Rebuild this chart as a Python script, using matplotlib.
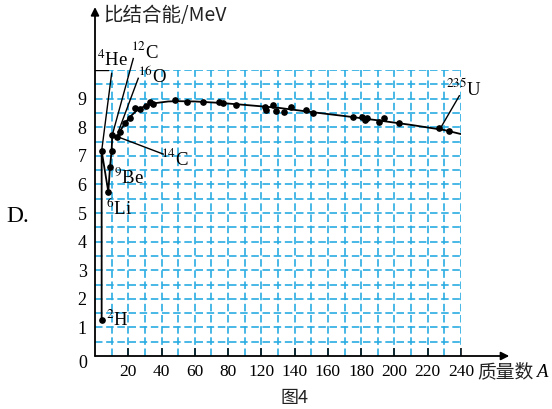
import matplotlib
matplotlib.use("Agg")
import matplotlib.pyplot as plt

plt.rcParams['font.family'] = ['Liberation Serif', 'Noto Sans CJK SC']
plt.rcParams['mathtext.fontset'] = 'stix'

# x positions follow the drawn grid (tick labels skip 100 in the original)
tick_pos = [20, 40, 60, 80, 100, 120, 140, 160, 180, 200, 220]
tick_labels = ['20', '40', '60', '80', '120', '140', '160', '180', '200', '220', '240']
y_ticks = [1, 2, 3, 4, 5, 6, 7, 8, 9]

# light nuclei, joined by straight segments
light_x = [4, 4, 8, 9, 10, 10.4, 13.4]
light_y = [1.26, 7.17, 5.74, 6.6, 7.18, 7.73, 7.67]

# smooth trend line
curve_x = [13.4, 15, 18, 21, 25, 30, 36, 44, 50, 60, 75, 90, 110, 130, 150, 170, 190, 210, 220]
curve_y = [7.67, 7.86, 8.14, 8.36, 8.58, 8.74, 8.84, 8.9, 8.91, 8.9, 8.85, 8.78, 8.68, 8.53,
           8.39, 8.24, 8.08, 7.9, 7.76]

# measured nuclei
pts_x = [4, 4, 8, 9, 10, 10.4, 13.4, 15, 18, 21, 24, 27, 30.6, 33, 35, 48, 55.6, 65, 74.6, 77,
         85, 102, 103, 107, 108.6, 113.6, 118, 126.6, 131, 155, 160.6, 162, 163.4, 171, 173.6,
         182.6, 207, 212.6]
pts_y = [1.26, 7.17, 5.74, 6.6, 7.18, 7.73, 7.67, 7.84, 8.14, 8.32, 8.67, 8.63, 8.74, 8.89, 8.8,
         8.95, 8.89, 8.89, 8.87, 8.83, 8.78, 8.72, 8.6, 8.78, 8.58, 8.54, 8.69, 8.6, 8.48, 8.34,
         8.37, 8.25, 8.31, 8.19, 8.33, 8.16, 7.96, 7.88]

# nuclide labels: (sup, symbol, x, y, leader from, leader to)
labels = [
    ('4', 'He', 1.2, 10.35, (10, 9.88), (4, 7.17)),
    ('12', 'C', 21.6, 10.63, (23, 10.4), (10.4, 7.73)),
    ('16', 'O', 25.8, 9.79, (26, 9.71), (14, 7.84)),
    ('14', 'C', 39.7, 6.92, (41, 7.06), (13.4, 7.67)),
    ('9', 'Be', 11.4, 6.22, None, None),
    ('6', 'Li', 6.6, 5.17, None, None),
    ('2', 'H', 6.6, 1.26, None, None),
    ('235', 'U', 211, 9.37, (219, 9.1), (208, 8.0)),
]

fig = plt.figure(figsize=(5.52, 4.09), dpi=100)
ax = fig.add_axes([95 / 552, 53 / 409, 366 / 552, 286 / 409])
ax.set_xlim(0, 220)
ax.set_ylim(0, 10)

grid_c = '#29abe2'
dash = (0, (4.5, 2.2))
for gx in range(10, 221, 10):
    ax.plot([gx, gx], [0, 10], color=grid_c, lw=1.2, ls=dash, zorder=1)
for k in range(1, 21):
    ax.plot([0, 220], [k * 0.5, k * 0.5], color=grid_c, lw=1.2, ls=dash, zorder=1)
ax.plot([0, 8], [10, 10], color='black', lw=1.0, zorder=2)

for s in ax.spines.values():
    s.set_visible(False)

ax.annotate('', xy=(249, 0), xytext=(0, 0), annotation_clip=False,
            arrowprops=dict(arrowstyle='-|>', color='black', lw=1.3, mutation_scale=12,
                            shrinkA=0, shrinkB=0))
ax.annotate('', xy=(0, 12.2), xytext=(0, 0), annotation_clip=False,
            arrowprops=dict(arrowstyle='-|>', color='black', lw=1.3, mutation_scale=12,
                            shrinkA=0, shrinkB=0))

ax.set_xticks(tick_pos)
ax.set_xticklabels(tick_labels, fontsize=12.5)
ax.set_yticks(y_ticks)
ax.set_yticklabels([str(v) for v in y_ticks], fontsize=13)
ax.tick_params(axis='x', direction='in', length=6, width=1.1, color='black', pad=6)
ax.tick_params(axis='y', length=0, pad=6)

ax.plot(light_x, light_y, color='black', lw=1.3, zorder=3)
ax.plot(curve_x, curve_y, color='black', lw=1.3, zorder=3)
ax.plot(pts_x, pts_y, 'o', color='black', ms=3.8, zorder=4)

for sup, sym, lx, ly, p0, p1 in labels:
    ax.text(lx, ly, '$^{' + sup + '}$' + sym, fontsize=13.5, va='center', ha='left',
            clip_on=False)
    if p0 is not None:
        ax.plot([p0[0], p1[0]], [p0[1], p1[1]], color='black', lw=1.0, zorder=3,
                clip_on=False)

ax.text(-7.2, -0.25, '0', fontsize=13, ha='center', va='center')
ax.text(4.8, 11.92, '比结合能/MeV', fontsize=14, ha='left', va='center',
        family=['Noto Sans CJK SC'], color='#222222')
ax.text(230, -0.56, '质量数', fontsize=13.5, ha='left', va='center',
        family=['Noto Sans CJK SC'], color='#222222')
ax.text(265, -0.56, 'A', fontsize=13.5, ha='left', va='center', style='italic')

fig.text(295 / 552, 1 - 398 / 409, '图4', fontsize=13, ha='center', va='center',
         family=['Noto Sans CJK SC', 'DejaVu Sans'], color='#222222')
fig.text(6 / 552, 1 - 216 / 409, 'D.', fontsize=17, ha='left', va='center')

fig.savefig('out.png', dpi=100)
